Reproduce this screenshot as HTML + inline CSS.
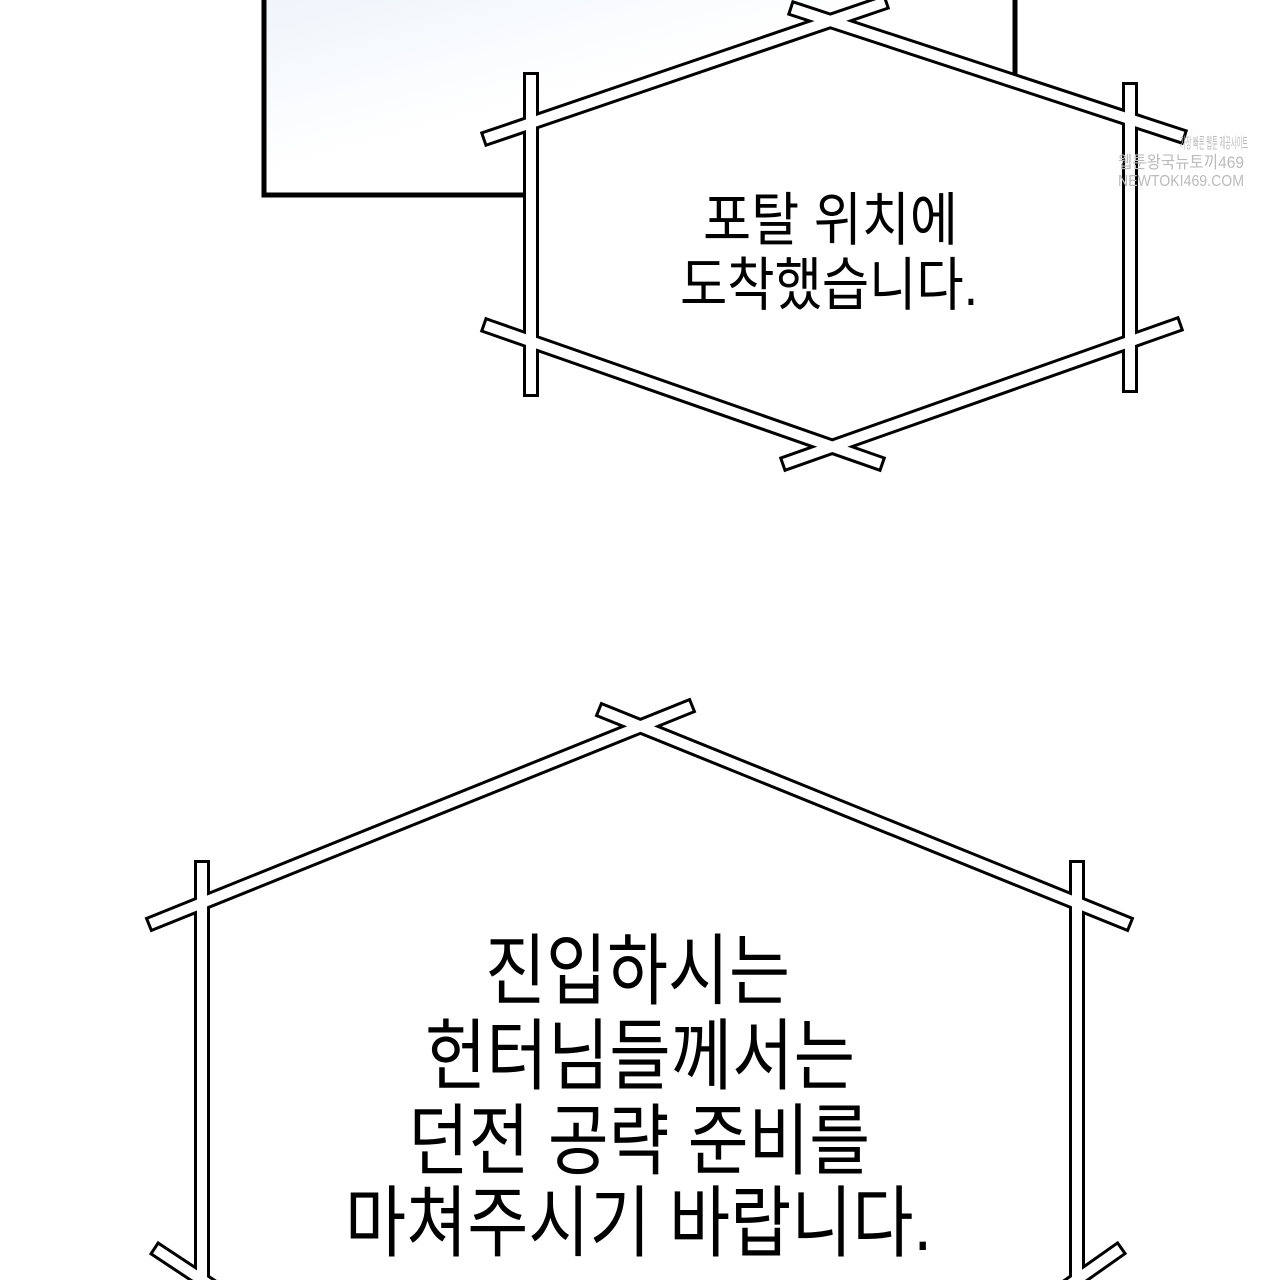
<!DOCTYPE html>
<html><head><meta charset="utf-8"><style>
html,body{margin:0;padding:0;background:#fff;}
svg{display:block}
text{font-family:"Liberation Sans","Noto Sans CJK KR",sans-serif;fill:#000;}
</style></head><body>
<svg width="1280" height="1280" viewBox="0 0 1280 1280" xmlns="http://www.w3.org/2000/svg">
<defs>
<linearGradient id="g" x1="0" y1="0" x2="1" y2="1">
<stop offset="0" stop-color="#eef4fb"/><stop offset="0.45" stop-color="#ffffff"/>
</linearGradient>
</defs>
<rect x="264" y="-10" width="751" height="205" fill="url(#g)" stroke="#000" stroke-width="5"/>
<polygon points="531,130 833,22 1130,118 1130,345 833,445 531,345" fill="#fff"/>
<polygon points="202,900 640,722 1077,900 1077,1280 202,1280" fill="#fff"/>
<g stroke="#000" stroke-width="16" stroke-linecap="square" fill="none">
<line x1="490" y1="137" x2="880" y2="4"/>
<line x1="797" y1="10" x2="1178" y2="135"/>
<line x1="531" y1="80" x2="531" y2="389"/>
<line x1="1130" y1="90" x2="1130" y2="385"/>
<line x1="490" y1="327" x2="876" y2="462"/>
<line x1="1174" y1="326" x2="789" y2="462"/>
<line x1="155" y1="922" x2="686" y2="708"/>
<line x1="605" y1="712" x2="1124" y2="922"/>
<line x1="202" y1="868" x2="202" y2="1290"/>
<line x1="1077" y1="868" x2="1077" y2="1290"/>
<line x1="160" y1="1252" x2="225" y2="1295"/>
<line x1="1116" y1="1252" x2="1055" y2="1295"/>
</g>
<g stroke="#fff" stroke-width="10" stroke-linecap="square" fill="none">
<line x1="490" y1="137" x2="880" y2="4"/>
<line x1="797" y1="10" x2="1178" y2="135"/>
<line x1="531" y1="80" x2="531" y2="389"/>
<line x1="1130" y1="90" x2="1130" y2="385"/>
<line x1="490" y1="327" x2="876" y2="462"/>
<line x1="1174" y1="326" x2="789" y2="462"/>
<line x1="155" y1="922" x2="686" y2="708"/>
<line x1="605" y1="712" x2="1124" y2="922"/>
<line x1="202" y1="868" x2="202" y2="1290"/>
<line x1="1077" y1="868" x2="1077" y2="1290"/>
<line x1="160" y1="1252" x2="225" y2="1295"/>
<line x1="1116" y1="1252" x2="1055" y2="1295"/>
</g>
<text x="703" y="240" font-size="58" textLength="255" lengthAdjust="spacingAndGlyphs">포탈 위치에</text>
<text x="680" y="305" font-size="58" textLength="298" lengthAdjust="spacingAndGlyphs">도착했습니다.</text>
<text x="485" y="998" font-size="78" textLength="305" lengthAdjust="spacingAndGlyphs">진입하시는</text>
<text x="425" y="1083" font-size="78" textLength="430" lengthAdjust="spacingAndGlyphs">헌터님들께서는</text>
<text x="408" y="1168" font-size="78" textLength="462" lengthAdjust="spacingAndGlyphs">던전 공략 준비를</text>
<text x="345" y="1250" font-size="78" textLength="587" lengthAdjust="spacingAndGlyphs">마쳐주시기 바랍니다.</text>
<text x="1180" y="148" font-size="15" style="fill:#bbb" textLength="68" lengthAdjust="spacingAndGlyphs">가장 빠른 웹툰 제공사이트</text>
<text x="1118" y="168" font-size="17" style="fill:#bbb" textLength="126" lengthAdjust="spacingAndGlyphs">웹툰왕국뉴토끼469</text>
<text x="1118" y="186" font-size="16" style="fill:#bbb" textLength="126" lengthAdjust="spacingAndGlyphs">NEWTOKI469.COM</text>
</svg>
</body></html>
